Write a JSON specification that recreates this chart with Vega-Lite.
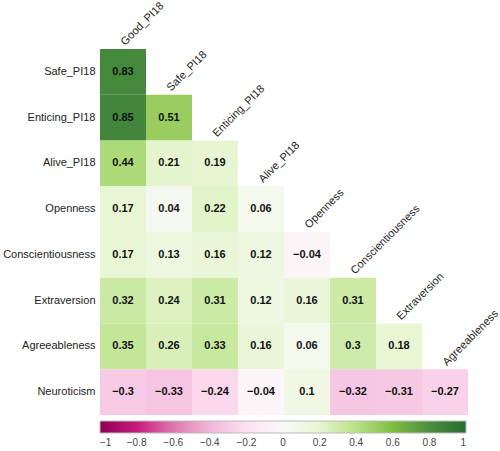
{
  "$schema": "https://vega.github.io/schema/vega-lite/v6.json",
  "width": 368,
  "height": 366,
  "autosize": {"type": "none"},
  "padding": {"left": 100, "top": 49, "right": 32, "bottom": 36},
  "config": {"view": {"stroke": null}, "font": "Liberation Sans"},
  "datasets": {
    "cells": [
      {"row": "Safe_PI18", "col": "Good_PI18", "r": 0.83},
      {"row": "Enticing_PI18", "col": "Good_PI18", "r": 0.85},
      {"row": "Enticing_PI18", "col": "Safe_PI18", "r": 0.51},
      {"row": "Alive_PI18", "col": "Good_PI18", "r": 0.44},
      {"row": "Alive_PI18", "col": "Safe_PI18", "r": 0.21},
      {"row": "Alive_PI18", "col": "Enticing_PI18", "r": 0.19},
      {"row": "Openness", "col": "Good_PI18", "r": 0.17},
      {"row": "Openness", "col": "Safe_PI18", "r": 0.04},
      {"row": "Openness", "col": "Enticing_PI18", "r": 0.22},
      {"row": "Openness", "col": "Alive_PI18", "r": 0.06},
      {"row": "Conscientiousness", "col": "Good_PI18", "r": 0.17},
      {"row": "Conscientiousness", "col": "Safe_PI18", "r": 0.13},
      {"row": "Conscientiousness", "col": "Enticing_PI18", "r": 0.16},
      {"row": "Conscientiousness", "col": "Alive_PI18", "r": 0.12},
      {"row": "Conscientiousness", "col": "Openness", "r": -0.04},
      {"row": "Extraversion", "col": "Good_PI18", "r": 0.32},
      {"row": "Extraversion", "col": "Safe_PI18", "r": 0.24},
      {"row": "Extraversion", "col": "Enticing_PI18", "r": 0.31},
      {"row": "Extraversion", "col": "Alive_PI18", "r": 0.12},
      {"row": "Extraversion", "col": "Openness", "r": 0.16},
      {"row": "Extraversion", "col": "Conscientiousness", "r": 0.31},
      {"row": "Agreeableness", "col": "Good_PI18", "r": 0.35},
      {"row": "Agreeableness", "col": "Safe_PI18", "r": 0.26},
      {"row": "Agreeableness", "col": "Enticing_PI18", "r": 0.33},
      {"row": "Agreeableness", "col": "Alive_PI18", "r": 0.16},
      {"row": "Agreeableness", "col": "Openness", "r": 0.06},
      {"row": "Agreeableness", "col": "Conscientiousness", "r": 0.3},
      {"row": "Agreeableness", "col": "Extraversion", "r": 0.18},
      {"row": "Neuroticism", "col": "Good_PI18", "r": -0.3},
      {"row": "Neuroticism", "col": "Safe_PI18", "r": -0.33},
      {"row": "Neuroticism", "col": "Enticing_PI18", "r": -0.24},
      {"row": "Neuroticism", "col": "Alive_PI18", "r": -0.04},
      {"row": "Neuroticism", "col": "Openness", "r": 0.1},
      {"row": "Neuroticism", "col": "Conscientiousness", "r": -0.32},
      {"row": "Neuroticism", "col": "Extraversion", "r": -0.31},
      {"row": "Neuroticism", "col": "Agreeableness", "r": -0.27}
    ],
    "collabels": [
      {"col": "Good_PI18", "row": "Safe_PI18"},
      {"col": "Safe_PI18", "row": "Enticing_PI18"},
      {"col": "Enticing_PI18", "row": "Alive_PI18"},
      {"col": "Alive_PI18", "row": "Openness"},
      {"col": "Openness", "row": "Conscientiousness"},
      {"col": "Conscientiousness", "row": "Extraversion"},
      {"col": "Extraversion", "row": "Agreeableness"},
      {"col": "Agreeableness", "row": "Neuroticism"}
    ]
  },
  "layer": [
    {
      "data": {"name": "cells"},
      "mark": {"type": "rect"},
      "encoding": {
        "x": {"field": "col", "type": "nominal", "sort": ["Good_PI18", "Safe_PI18", "Enticing_PI18", "Alive_PI18", "Openness", "Conscientiousness", "Extraversion", "Agreeableness"], "axis": null, "scale": {"paddingInner": 0, "paddingOuter": 0}},
        "y": {"field": "row", "type": "nominal", "sort": ["Safe_PI18", "Enticing_PI18", "Alive_PI18", "Openness", "Conscientiousness", "Extraversion", "Agreeableness", "Neuroticism"], "title": null, "scale": {"paddingInner": 0, "paddingOuter": 0},
          "axis": {"ticks": false, "domain": false, "labelFontSize": 11, "labelColor": "#222", "labelPadding": 5, "labelFont": "Liberation Sans"}},
        "color": {"field": "r", "type": "quantitative",
          "scale": {"domain": [-1, -0.8, -0.6, -0.4, -0.2, 0, 0.2, 0.4, 0.6, 0.8, 1], "range": ["#8e0152", "#c51b7d", "#de77ae", "#f1b6da", "#fde0ef", "#fafafa", "#e6f5d0", "#b8e186", "#7fbc41", "#4a8f3e", "#276a30"], "interpolate": "rgb"},
          "legend": {"title": null, "orient": "none", "direction": "horizontal", "legendX": 0, "legendY": 372, "gradientLength": 366, "gradientThickness": 12, "gradientStrokeColor": "#bbb", "gradientStrokeWidth": 1, "values": [-1, -0.8, -0.6, -0.4, -0.2, 0, 0.2, 0.4, 0.6, 0.8, 1], "labelFontSize": 10, "labelColor": "#444", "labelOverlap": false, "labelOffset": 5, "format": "~g"}}
      }
    },
    {
      "data": {"name": "cells"},
      "mark": {"type": "text", "fontWeight": "bold", "fontSize": 11, "color": "#111"},
      "encoding": {
        "x": {"field": "col", "type": "nominal", "sort": ["Good_PI18", "Safe_PI18", "Enticing_PI18", "Alive_PI18", "Openness", "Conscientiousness", "Extraversion", "Agreeableness"]},
        "y": {"field": "row", "type": "nominal", "sort": ["Safe_PI18", "Enticing_PI18", "Alive_PI18", "Openness", "Conscientiousness", "Extraversion", "Agreeableness", "Neuroticism"]},
        "text": {"field": "r", "type": "quantitative", "format": ".2~f"}
      }
    },
    {
      "data": {"name": "collabels"},
      "mark": {"type": "text", "angle": 315, "align": "left", "baseline": "alphabetic", "fontSize": 11, "color": "#222", "yOffset": -26, "xOffset": 2},
      "encoding": {
        "x": {"field": "col", "type": "nominal", "sort": ["Good_PI18", "Safe_PI18", "Enticing_PI18", "Alive_PI18", "Openness", "Conscientiousness", "Extraversion", "Agreeableness"]},
        "y": {"field": "row", "type": "nominal", "sort": ["Safe_PI18", "Enticing_PI18", "Alive_PI18", "Openness", "Conscientiousness", "Extraversion", "Agreeableness", "Neuroticism"]},
        "text": {"field": "col"}
      }
    }
  ]
}
